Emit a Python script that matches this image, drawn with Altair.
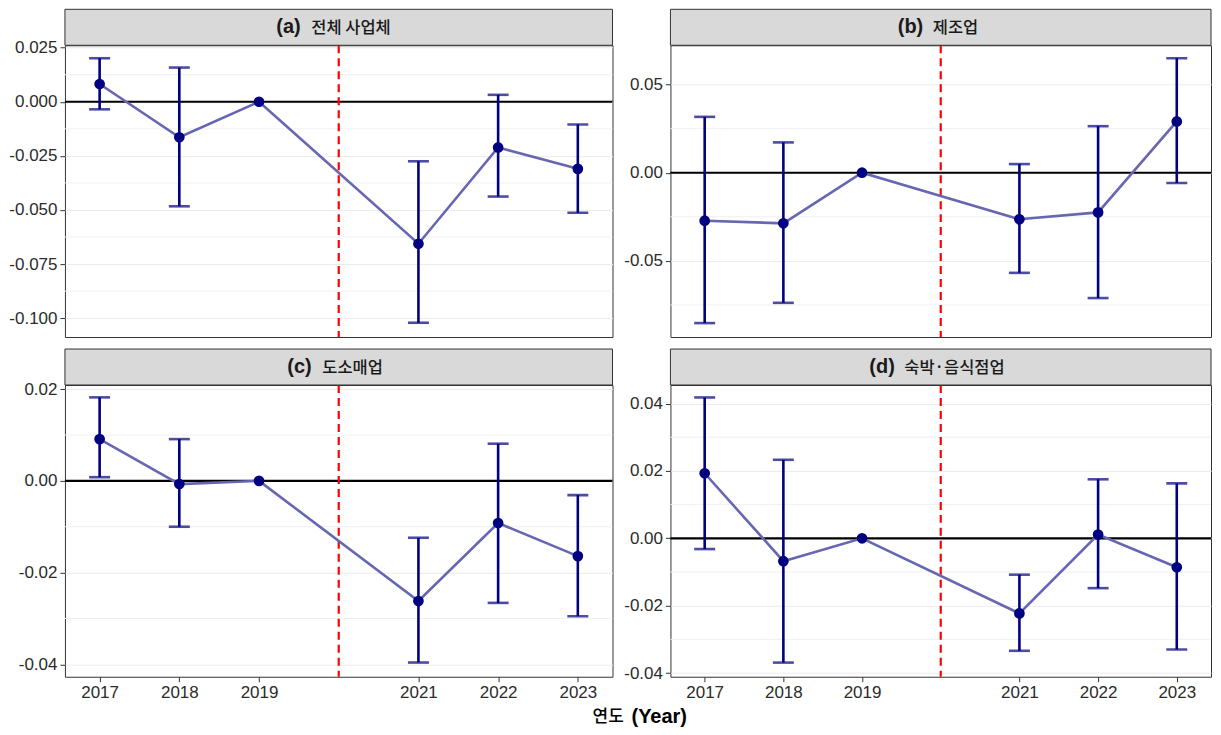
import altair as alt
import pandas as pd

# ---------------- data ----------------
years = [2017, 2018, 2019, 2021, 2022, 2023]
x_ticks = [2017, 2018, 2019, 2021, 2022, 2023]
break_year = [2020]
zero_line = [0.0]

panel_tags = ["(a)", "(b)", "(c)", "(d)"]
panel_names = ["전체 사업체", "제조업", "도소매업", "숙박·음식점업"]

a_est = [0.0082, -0.0164, 0.0, -0.0656, -0.0211, -0.0310]
a_lo = [-0.0035, -0.0483, None, -0.1021, -0.0438, -0.0513]
a_hi = [0.0201, 0.0158, None, -0.0275, 0.0032, -0.0105]

b_est = [-0.0272, -0.0287, 0.0, -0.0264, -0.0225, 0.0291]
b_lo = [-0.0853, -0.0738, None, -0.0568, -0.0711, -0.0058]
b_hi = [0.0317, 0.0172, None, 0.0049, 0.0264, 0.0649]

c_est = [0.0091, -0.0007, 0.0, -0.0262, -0.0092, -0.0164]
c_lo = [0.0008, -0.0100, None, -0.0396, -0.0266, -0.0295]
c_hi = [0.0182, 0.0091, None, -0.0124, 0.0081, -0.0031]

d_est = [0.0193, -0.0068, 0.0, -0.0223, 0.0011, -0.0086]
d_lo = [-0.0032, -0.0369, None, -0.0334, -0.0148, -0.0330]
d_hi = [0.0418, 0.0233, None, -0.0108, 0.0175, 0.0163]

y_domains = [[-0.1087, 0.0261], [-0.0932, 0.0723], [-0.0427, 0.0209], [-0.0411, 0.0455]]
y_ticks = [
    [-0.1, -0.075, -0.05, -0.025, 0.0, 0.025],
    [-0.05, 0.0, 0.05],
    [-0.04, -0.02, 0.0, 0.02],
    [-0.04, -0.02, 0.0, 0.02, 0.04],
]
y_minor = [
    [-0.0875, -0.0625, -0.0375, -0.0125, 0.0125],
    [-0.075, -0.025, 0.025],
    [-0.03, -0.01, 0.01],
    [-0.03, -0.01, 0.01, 0.03],
]
y_fmt = [".3f", ".2f", ".2f", ".2f"]
x_domain = [2016.565, 2023.435]

# ---------------- style ----------------
NAVY = "#000080"
LINE = "#6666b3"
LATIN = "Liberation Sans"
KOREAN = "Noto Sans CJK KR"
H = 292
STRIP = 36
W_LEFT = 548
W_RIGHT = 541


def panel(i, est, lo, hi, width, bottom):
    df = pd.DataFrame({"year": years, "est": est, "lo": lo, "hi": hi})
    eb = df.dropna().reset_index(drop=True)

    xscale = alt.Scale(domain=x_domain, nice=False, zero=False)
    yscale = alt.Scale(domain=y_domains[i], nice=False, zero=False)
    if bottom:
        xaxis = alt.Axis(values=x_ticks, format="d", title=None, grid=False, domain=False,
                         ticks=True, tickSize=5, tickColor="#333333", labelPadding=3)
    else:
        xaxis = alt.Axis(values=x_ticks, title=None, grid=False, domain=False,
                         ticks=False, labels=False)
    expr = "replace(format(datum.value, '%s'), '\u2212', '-')" % y_fmt[i]
    yaxis = alt.Axis(values=y_ticks[i], labelExpr=expr, title=None, grid=True,
                     gridColor="#ebebeb", gridWidth=1, domain=False, tickSize=5,
                     tickColor="#333333", labelPadding=3)

    X = lambda f: alt.X(f, type="quantitative", scale=xscale, axis=xaxis)
    Y = lambda f: alt.Y(f, type="quantitative", scale=yscale, axis=yaxis)

    minor = alt.Chart(pd.DataFrame({"v": y_minor[i]})).mark_rule(
        color="#f0f0f0", strokeWidth=1).encode(y=Y("v"))
    zero = alt.Chart(pd.DataFrame({"v": zero_line})).mark_rule(
        color="black", strokeWidth=2.2).encode(y=Y("v"))
    vline = alt.Chart(pd.DataFrame({"year": break_year})).mark_rule(
        color="#ff0000", strokeWidth=2.2, strokeDash=[8, 5]).encode(x=X("year"))
    line = alt.Chart(df).mark_line(color=LINE, strokeWidth=2.6).encode(x=X("year"), y=Y("est"))
    bars = alt.Chart(eb).mark_rule(color=NAVY, strokeWidth=2.6).encode(
        x=X("year"), y=Y("lo"), y2="hi")
    cap_lo = alt.Chart(eb).mark_tick(color=NAVY, thickness=2.6, size=21, orient="horizontal").encode(
        x=X("year"), y=Y("lo"))
    cap_hi = alt.Chart(eb).mark_tick(color=NAVY, thickness=2.6, size=21, orient="horizontal").encode(
        x=X("year"), y=Y("hi"))
    pts = alt.Chart(df).mark_circle(color=NAVY, size=115, opacity=1).encode(x=X("year"), y=Y("est"))

    one = pd.DataFrame({"k": [0]})
    strip = alt.Chart(one).mark_rect(fill="#d9d9d9", stroke="#333333", strokeWidth=1).encode(
        x=alt.value(0), x2=alt.value(width), y=alt.value(-STRIP), y2=alt.value(0))

    tag_w = 26
    name = panel_names[i]
    n_han = sum(1 for ch in name if "\uac00" <= ch <= "\ud7a3")
    kor_w = 17 * n_han + 5 * name.count(" ") + 6 * name.count("·")
    total = tag_w + 9 + kor_w
    left = width / 2 - total / 2
    tag = alt.Chart(one).mark_text(align="left", baseline="middle", font=LATIN, fontSize=20,
                                   fontWeight="bold", color="#1a1a1a").encode(
        x=alt.value(left), y=alt.value(-STRIP / 2), text=alt.value(panel_tags[i]))
    kor = alt.Chart(one).mark_text(align="left", baseline="middle", font=KOREAN, fontSize=16.5,
                                   fontWeight=500, color="#1a1a1a").encode(
        x=alt.value(left + tag_w + 9), y=alt.value(-STRIP / 2 + 1), text=alt.value(name))

    layers = [minor, zero, vline, line, bars, cap_lo, cap_hi, pts, strip, tag, kor]
    if i == 2:
        t1 = alt.Chart(one).mark_text(align="left", baseline="middle", font=KOREAN, fontSize=17,
                                      fontWeight=500, color="#000000").encode(
            x=alt.value(528), y=alt.value(H + 40), text=alt.value("연도"))
        t2 = alt.Chart(one).mark_text(align="left", baseline="middle", font=LATIN, fontSize=20,
                                      fontWeight="bold", color="#000000").encode(
            x=alt.value(567), y=alt.value(H + 40), text=alt.value("(Year)"))
        layers += [t1, t2]
    return alt.layer(*layers).properties(width=width, height=H)


pa = panel(0, a_est, a_lo, a_hi, W_LEFT, False)
pb = panel(1, b_est, b_lo, b_hi, W_RIGHT, False)
pc = panel(2, c_est, c_lo, c_hi, W_LEFT, True)
pd_ = panel(3, d_est, d_lo, d_hi, W_RIGHT, True)

chart = alt.concat(pa, pb, pc, pd_, columns=2, spacing={"row": 48, "column": 58},
                   bounds="flush").properties(
    padding={"left": 0, "top": 0, "right": 0, "bottom": 0}
).configure_view(stroke="#333333", strokeWidth=1).configure_axis(
    labelFont=LATIN, labelFontSize=17, labelColor="#2b2b2b"
)

chart.save("out.html", embed_options={"renderer": "svg", "actions": False})
